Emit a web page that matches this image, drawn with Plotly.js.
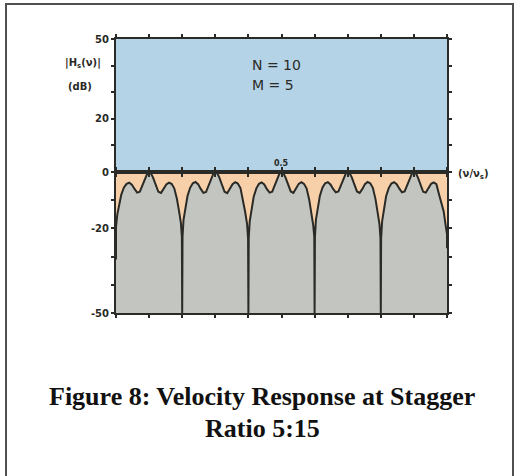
<!DOCTYPE html>
<html>
<head>
<meta charset="utf-8">
<script src="https://cdn.plot.ly/plotly-3.0.1.min.js"></script>
<style>
  html, body { margin: 0; padding: 0; background: #ffffff; }
  #chart { width: 516px; height: 476px; }
</style>
</head>
<body>
<div id="chart"></div>
<script>
// Normalised velocity (nu / nu_s) and response magnitude |Hs(nu)| in dB, lobe by lobe.
const lobe1Freq = [0.000, 0.000, 0.004, 0.010, 0.016, 0.024, 0.032, 0.040, 0.048, 0.056, 0.064, 0.072, 0.080, 0.088, 0.095,
  0.100, 0.105, 0.112, 0.120, 0.128, 0.136, 0.144, 0.152, 0.160, 0.168, 0.176, 0.184, 0.190, 0.196, 0.199, 0.200];
const lobe1Gain = [-31, -19.5, -15, -11, -8, -5.5, -4.2, -3.8, -4.5, -6.0, -7.3, -7.0, -4.8, -2.0, -0.4,
  0, -0.4, -2.0, -4.8, -7.0, -7.4, -6.0, -4.4, -3.8, -4.2, -5.8, -9.5, -13.5, -18, -23, -50];

const lobe2Freq = [0.201, 0.204, 0.210, 0.216, 0.224, 0.232, 0.240, 0.248, 0.256, 0.264, 0.272, 0.280, 0.288, 0.295,
  0.300, 0.305, 0.312, 0.320, 0.328, 0.336, 0.344, 0.352, 0.360, 0.368, 0.376, 0.384, 0.390, 0.396, 0.399, 0.400];
const lobe2Gain = [-23, -17, -12, -8.5, -5.6, -4.0, -3.5, -4.3, -6.0, -7.4, -7.1, -4.6, -1.8, -0.3,
  0, -0.3, -1.9, -4.7, -7.0, -7.5, -6.1, -4.3, -3.6, -4.1, -5.7, -9.8, -14, -18.5, -23.5, -50];

const lobe3Freq = [0.401, 0.404, 0.410, 0.416, 0.424, 0.432, 0.440, 0.448, 0.456, 0.464, 0.472, 0.480, 0.488, 0.495,
  0.500, 0.505, 0.512, 0.520, 0.528, 0.536, 0.544, 0.552, 0.560, 0.568, 0.576, 0.584, 0.590, 0.596, 0.599, 0.600];
const lobe3Gain = [-23.5, -17.5, -12.5, -8.8, -5.8, -4.2, -3.7, -4.4, -6.1, -7.3, -7.0, -4.5, -1.7, -0.2,
  0, -0.3, -1.9, -4.6, -6.9, -7.4, -6.0, -4.2, -3.6, -4.2, -5.9, -10, -14.5, -19, -23, -50];

const lobe4Freq = [0.601, 0.604, 0.610, 0.616, 0.624, 0.632, 0.640, 0.648, 0.656, 0.664, 0.672, 0.680, 0.688, 0.695,
  0.700, 0.705, 0.712, 0.720, 0.728, 0.736, 0.744, 0.752, 0.760, 0.768, 0.776, 0.784, 0.790, 0.796, 0.799, 0.800];
const lobe4Gain = [-23, -17, -12, -8.4, -5.5, -4.0, -3.6, -4.4, -6.0, -7.2, -6.9, -4.5, -1.8, -0.3,
  0, -0.3, -1.8, -4.6, -6.9, -7.4, -6.1, -4.3, -3.5, -4.0, -5.6, -9.6, -14, -18.5, -23.5, -50];

const lobe5Freq = [0.801, 0.804, 0.810, 0.816, 0.824, 0.832, 0.840, 0.848, 0.856, 0.864, 0.872, 0.880, 0.888, 0.895,
  0.900, 0.905, 0.912, 0.920, 0.928, 0.936, 0.944, 0.952, 0.960, 0.968, 0.976, 0.984, 0.990, 0.996, 1.000, 1.000];
const lobe5Gain = [-23.5, -17.5, -12.5, -8.6, -5.7, -4.1, -3.6, -4.3, -5.9, -7.2, -6.9, -4.6, -1.9, -0.3,
  0, -0.3, -1.9, -4.7, -7.0, -7.3, -5.8, -4.2, -3.7, -4.3, -8, -11.5, -14, -19, -22, -27];

// Axis labelling
const yTicksLower = [-50, -20, 0];
const yTicksUpper = [20, 50];
const xMarkLabel = '0.5';
const xMarkValue = 0.5;

const captionLines = ['Figure 8: Velocity Response at Stagger', 'Ratio 5:15'];

const freq = [...lobe1Freq, ...lobe2Freq, ...lobe3Freq, ...lobe4Freq, ...lobe5Freq];
const gain = [...lobe1Gain, ...lobe2Gain, ...lobe3Gain, ...lobe4Gain, ...lobe5Gain];

const ink = '#2a2a26';
const handFont = { family: 'DejaVu Sans', size: 10, color: ink, weight: 'bold' };
const captionFont = { family: 'Liberation Serif', size: 26, color: '#111111', weight: 'bold' };

// lower panel: -50..0 dB, upper panel: 0..50 dB (drawn with its own scale)
const split = 141 / 274;

const traces = [{
  x: freq, y: gain,
  xaxis: 'x', yaxis: 'y',
  type: 'scatter', mode: 'lines',
  line: { color: ink, width: 2 },
  fill: 'tozeroy', fillcolor: '#f7d0aa',
  hoverinfo: 'skip', showlegend: false,
  cliponaxis: true
}];

const axisLine = {
  showline: true, linecolor: ink, linewidth: 2, mirror: 'ticks',
  ticks: 'outside', ticklen: 3, tickwidth: 2, tickcolor: ink,
  showgrid: false, zeroline: false, fixedrange: true
};

const layout = {
  width: 516, height: 476,
  margin: { l: 116, r: 69, t: 39, b: 163 },
  paper_bgcolor: '#ffffff', plot_bgcolor: 'rgba(0,0,0,0)',
  showlegend: false,
  font: { family: 'DejaVu Sans', color: ink },
  xaxis: Object.assign({}, axisLine, {
    domain: [0, 1], range: [0, 1], anchor: 'y', dtick: 0.1, tick0: 0, showticklabels: false
  }),
  xaxis2: Object.assign({}, axisLine, {
    domain: [0, 1], range: [0, 1], anchor: 'y2', dtick: 0.1, tick0: 0, showticklabels: false
  }),
  yaxis: Object.assign({}, axisLine, {
    domain: [0, split], range: [-50, 0], anchor: 'x',
    tickmode: 'array', tickvals: yTicksLower, ticktext: yTicksLower.map(String),
    tickfont: handFont,
    minor: { dtick: 10, ticks: 'outside', ticklen: 3, tickwidth: 2, tickcolor: ink }
  }),
  yaxis2: Object.assign({}, axisLine, {
    domain: [split, 1], range: [0, 50], anchor: 'x2',
    tickmode: 'array', tickvals: yTicksUpper, ticktext: yTicksUpper.map(String),
    tickfont: handFont,
    minor: { dtick: 10, ticks: 'outside', ticklen: 3, tickwidth: 2, tickcolor: ink }
  }),
  shapes: [
    // panel backgrounds
    { type: 'rect', layer: 'below', xref: 'paper', yref: 'y2 domain', x0: 0, x1: 1, y0: 0, y1: 1,
      fillcolor: '#b5d3e7', line: { width: 0 } },
    { type: 'rect', layer: 'below', xref: 'paper', yref: 'y domain', x0: 0, x1: 1, y0: 0, y1: 1,
      fillcolor: '#c3c5c1', line: { width: 0 } },
    // outer frame of the figure
    { type: 'rect', layer: 'below', xref: 'paper', yref: 'paper',
      x0: -0.3323, x1: 1.1994, y0: -0.65, y1: 1.1277,
      fillcolor: 'rgba(0,0,0,0)', line: { color: '#505050', width: 2 } }
  ],
  annotations: [
    { xref: 'x2', yref: 'y2', x: xMarkValue, y: 0, text: xMarkLabel, showarrow: false,
      yanchor: 'bottom', yshift: 2, font: { family: 'DejaVu Sans', size: 8, color: ink, weight: 'bold' } },
    { xref: 'paper', yref: 'paper', x: 0.405, y: 0.905, xanchor: 'left', yanchor: 'middle', text: 'N = 10', showarrow: false,
      font: { family: 'DejaVu Sans', size: 14, color: ink } },
    { xref: 'paper', yref: 'paper', x: 0.405, y: 0.832, xanchor: 'left', yanchor: 'middle', text: 'M = 5', showarrow: false,
      font: { family: 'DejaVu Sans', size: 14, color: ink } },
    { xref: 'paper', yref: 'paper', x: -0.16, y: 0.912, yanchor: 'middle', text: '|H<sub>s</sub>(ν)|', showarrow: false,
      font: { family: 'DejaVu Sans', size: 10, color: ink, weight: 'bold' } },
    { xref: 'paper', yref: 'paper', x: -0.151, y: 0.828, yanchor: 'middle', text: '(dB)', showarrow: false,
      font: { family: 'DejaVu Sans', size: 10, color: ink, weight: 'bold' } },
    { xref: 'paper', yref: 'paper', x: 1.027, y: 0.504, xanchor: 'left', yanchor: 'middle', text: '(ν/ν<sub>s</sub>)', showarrow: false,
      font: { family: 'DejaVu Sans', size: 10, color: ink, weight: 'bold' } },
    // figure caption, two centred lines
    { xref: 'paper', yref: 'paper', x: (262 - 116) / 331, y: (313 - 396) / 274, xanchor: 'center', yanchor: 'middle',
      text: captionLines[0], showarrow: false, font: captionFont },
    { xref: 'paper', yref: 'paper', x: (262 - 116) / 331, y: (313 - 428) / 274, xanchor: 'center', yanchor: 'middle',
      text: captionLines[1], showarrow: false, font: captionFont }
  ]
};

Plotly.newPlot('chart', traces, layout, { staticPlot: true, displayModeBar: false });
</script>
</body>
</html>
